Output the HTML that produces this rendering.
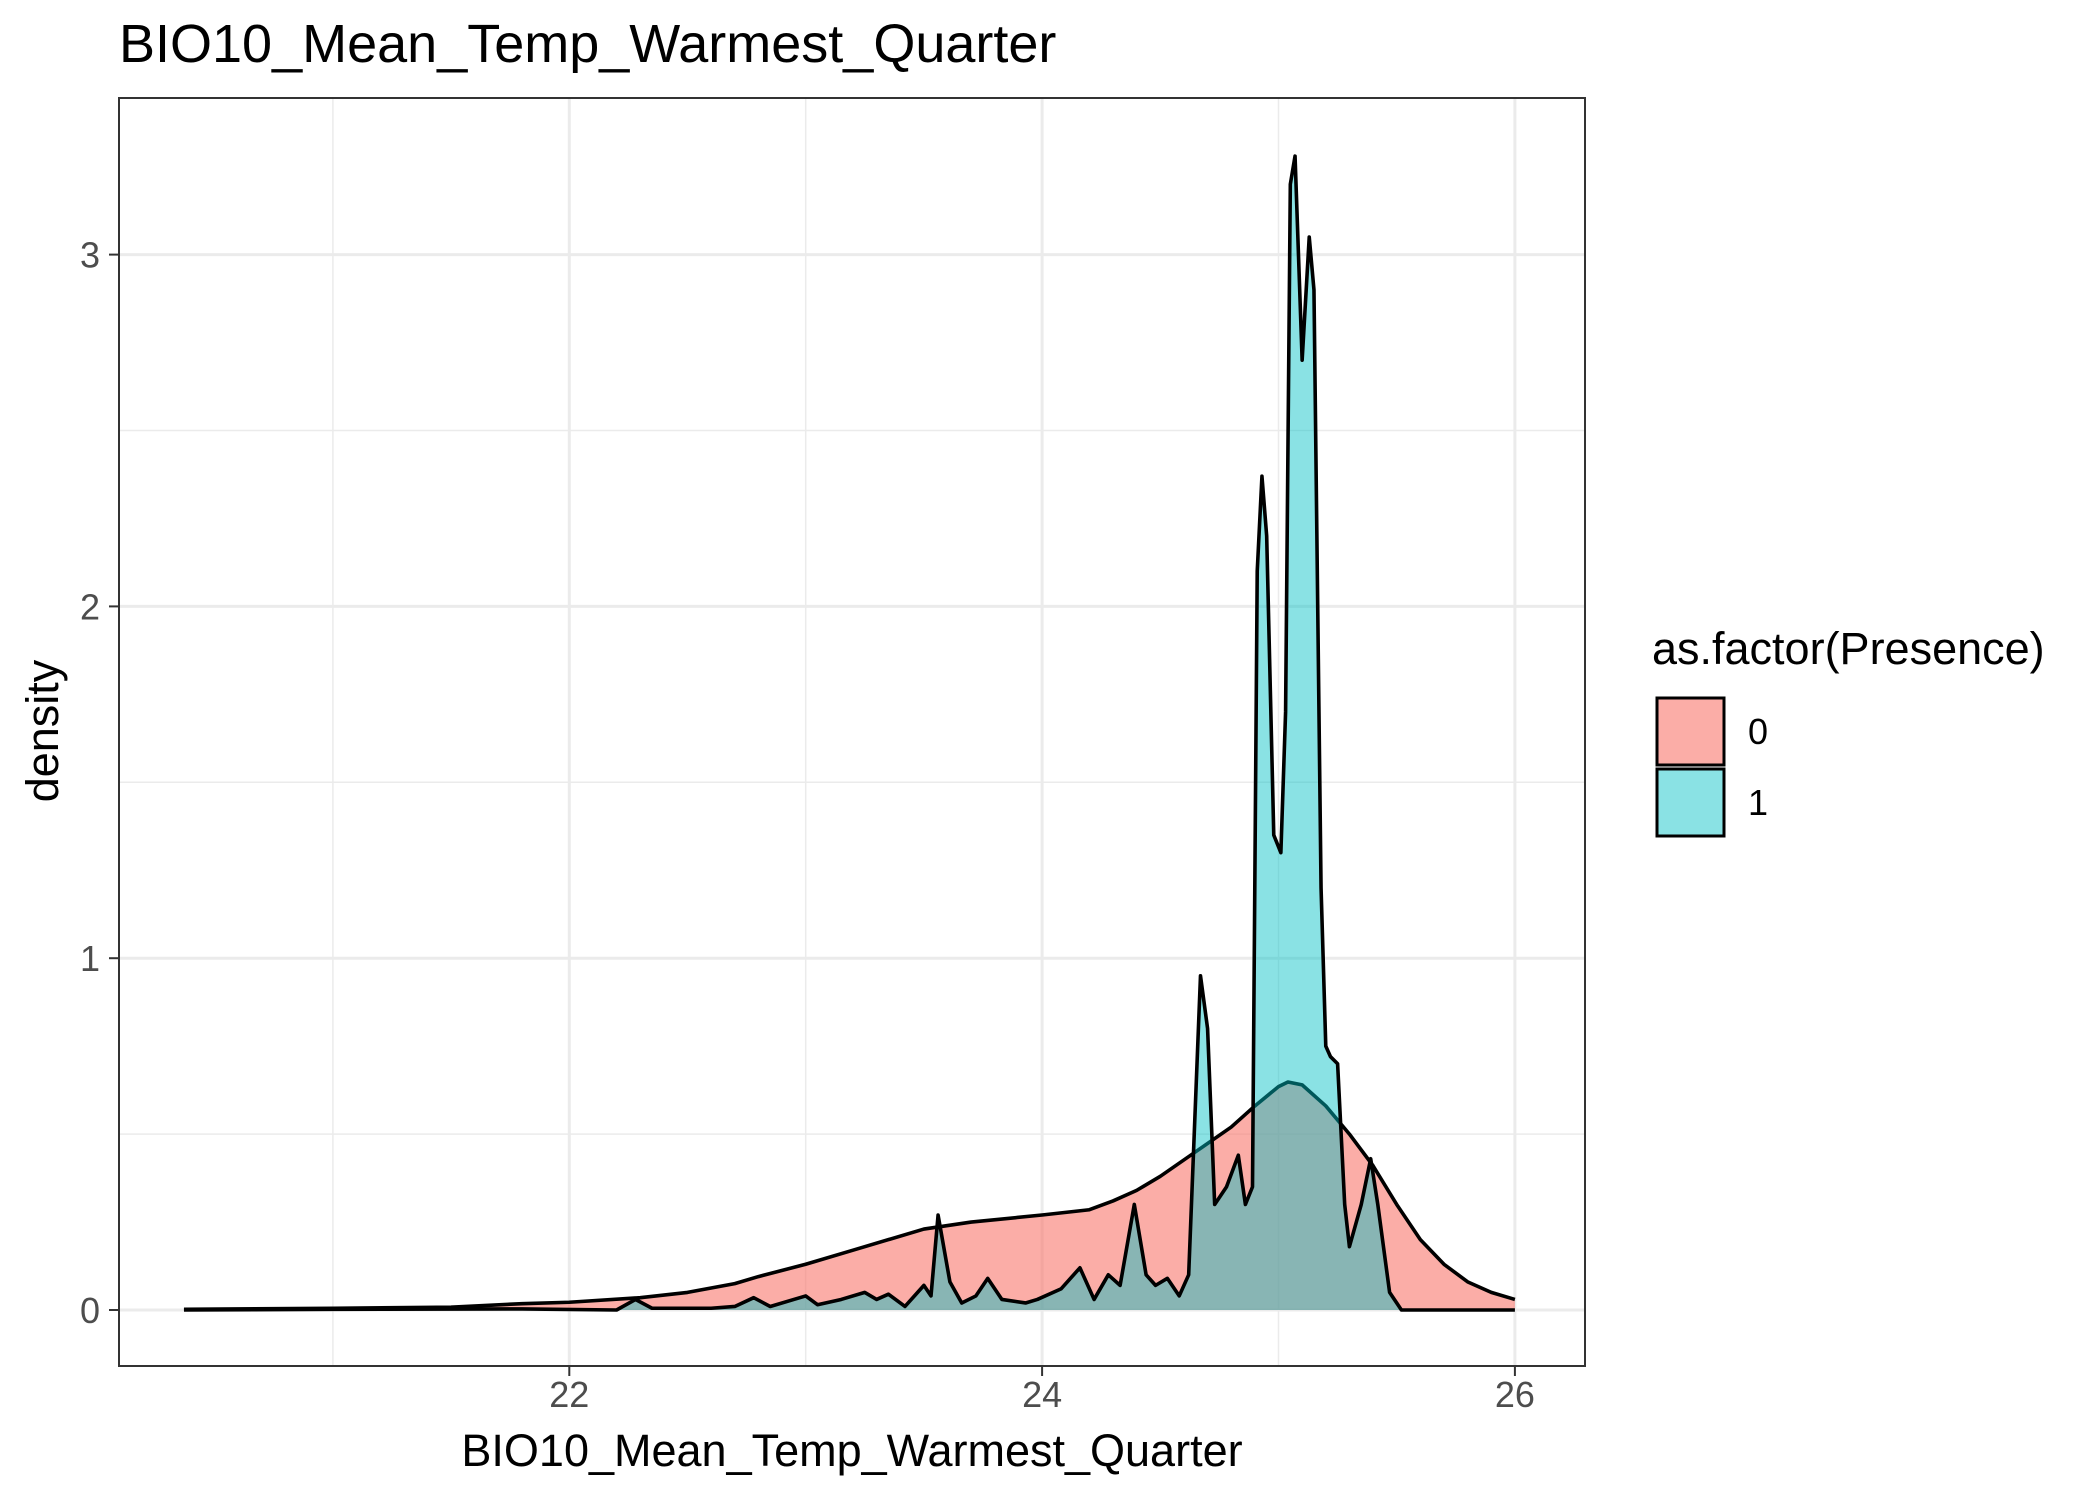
<!DOCTYPE html>
<html><head><meta charset="utf-8"><style>body{margin:0;background:#fff}svg{display:block;font-family:"Liberation Sans",sans-serif}</style></head>
<body>
<svg id="chart" width="2100" height="1500" viewBox="0 0 2100 1500">
<rect width="2100" height="1500" fill="#fff"/>
<text x="119" y="62" font-size="54" fill="#000">BIO10_Mean_Temp_Warmest_Quarter</text>
<g id="grid"></g>
<g id="marks"></g>
<rect x="119" y="98" width="1466" height="1268" fill="none" stroke="#333" stroke-width="2"/>
<g id="axes"></g>
<text x="852" y="1466" font-size="45" text-anchor="middle" fill="#000">BIO10_Mean_Temp_Warmest_Quarter</text>
<text transform="translate(58,731) rotate(-90)" font-size="45" text-anchor="middle" fill="#000">density</text>
<g>
<text x="1652" y="664" font-size="45" fill="#000">as.factor(Presence)</text>
<rect x="1657" y="698" width="67" height="67" fill="#F8766D" fill-opacity="0.6" stroke="#000" stroke-width="3"/>
<rect x="1657" y="769" width="67" height="67" fill="#00BFC4" fill-opacity="0.46" stroke="#000" stroke-width="3"/>
<text x="1748" y="744" font-size="36" fill="#000">0</text>
<text x="1748" y="815" font-size="36" fill="#000">1</text>
</g>
</svg>
<script>
const xTicks=[22,24,26];
const xMinor=[21,23,25];
const yTicks=[0,1,2,3];
const yMinor=[0.5,1.5,2.5];
const absentX=[20.37,21,21.5,21.8,22,22.3,22.5,22.7,22.8,23,23.2,23.5,23.7,24,24.2,24.3,24.4,24.5,24.65,24.8,24.9,25,25.04,25.1,25.2,25.3,25.4,25.5,25.6,25.7,25.8,25.9,26.0];
const absentY=[0.002,0.005,0.008,0.018,0.022,0.035,0.05,0.075,0.095,0.13,0.17,0.23,0.25,0.27,0.285,0.31,0.34,0.38,0.45,0.52,0.58,0.635,0.648,0.64,0.58,0.5,0.41,0.3,0.2,0.13,0.08,0.05,0.03];
const presX=[20.37,21,21.8,22.2,22.28,22.35,22.6,22.7,22.78,22.85,22.95,23.0,23.05,23.15,23.25,23.3,23.35,23.42,23.5,23.53,23.56,23.61,23.66,23.72,23.77,23.83,23.93,23.98,24.08,24.16,24.22,24.28,24.33,24.39,24.44,24.48,24.53,24.58,24.62,24.67,24.7,24.73,24.78,24.83,24.86,24.89,24.91,24.93,24.95,24.98,25.01,25.03,25.05,25.07,25.1,25.13,25.15,25.18,25.2,25.22,25.25,25.28,25.3,25.35,25.39,25.42,25.47,25.52,26.0];
const presY=[0,0.002,0.003,0,0.03,0.005,0.005,0.01,0.035,0.01,0.03,0.04,0.015,0.03,0.05,0.03,0.045,0.01,0.07,0.04,0.27,0.08,0.02,0.04,0.09,0.03,0.02,0.03,0.06,0.12,0.03,0.1,0.07,0.3,0.1,0.07,0.09,0.04,0.1,0.95,0.8,0.3,0.35,0.44,0.3,0.35,2.1,2.37,2.2,1.35,1.3,1.7,3.2,3.28,2.7,3.05,2.9,1.2,0.75,0.72,0.7,0.3,0.18,0.3,0.43,0.3,0.05,0,0];
const NS='http://www.w3.org/2000/svg';
const xs=v=>569.3+(v-22)*236.4;
const ys=v=>1310-v*351.8;
function mk(tag,attrs,parent){const e=document.createElementNS(NS,tag);for(const k in attrs)e.setAttribute(k,attrs[k]);parent.appendChild(e);return e;}
const grid=document.getElementById('grid'),marks=document.getElementById('marks'),axes=document.getElementById('axes');
mk('rect',{x:119,y:98,width:1466,height:1268,fill:'#fff'},grid);
xMinor.forEach(v=>{const l=mk('line',{x1:xs(v),x2:xs(v),y1:98,y2:1366,stroke:'#ebebeb','stroke-width':1.5},grid);

});
yMinor.forEach(v=>{const l=mk('line',{x1:119,x2:1585,y1:ys(v),y2:ys(v),stroke:'#ebebeb','stroke-width':1.5},grid);

});
xTicks.forEach(v=>{const l=mk('line',{x1:xs(v),x2:xs(v),y1:98,y2:1366,stroke:'#ebebeb','stroke-width':3},grid);

});
yTicks.forEach(v=>{const l=mk('line',{x1:119,x2:1585,y1:ys(v),y2:ys(v),stroke:'#ebebeb','stroke-width':3},grid);

});
function area(X,Y,color,op,name){
 let d='M'+xs(X[0])+','+ys(0);
 X.forEach((x,i)=>{d+=' L'+xs(x)+','+ys(Y[i]);});
 d+=' L'+xs(X[X.length-1])+','+ys(0)+' Z';
 const p=mk('path',{d:d,fill:color,'fill-opacity':op,stroke:'none'},marks);
 
 
 let ld='M'+X.map((x,i)=>xs(x)+','+ys(Y[i])).join(' L');
 const l=mk('path',{d:ld,fill:'none',stroke:'#000','stroke-width':3.6,'stroke-linejoin':'round'},marks);
 
 
}
area(absentX,absentY,'#F8766D',0.6,'presence-0');
area(presX,presY,'#00BFC4',0.46,'presence-1');
xTicks.forEach(v=>{const t=mk('line',{x1:xs(v),x2:xs(v),y1:1366,y2:1376,stroke:'#333','stroke-width':2},axes);


const tx=mk('text',{x:xs(v),y:1407,'font-size':36,'text-anchor':'middle',fill:'#4d4d4d'},axes);tx.textContent=v;

});
yTicks.forEach(v=>{const t=mk('line',{x1:109,x2:119,y1:ys(v),y2:ys(v),stroke:'#333','stroke-width':2},axes);


const tx=mk('text',{x:100,y:ys(v)+13,'font-size':36,'text-anchor':'end',fill:'#4d4d4d'},axes);tx.textContent=v;

});
</script>
</body></html>
